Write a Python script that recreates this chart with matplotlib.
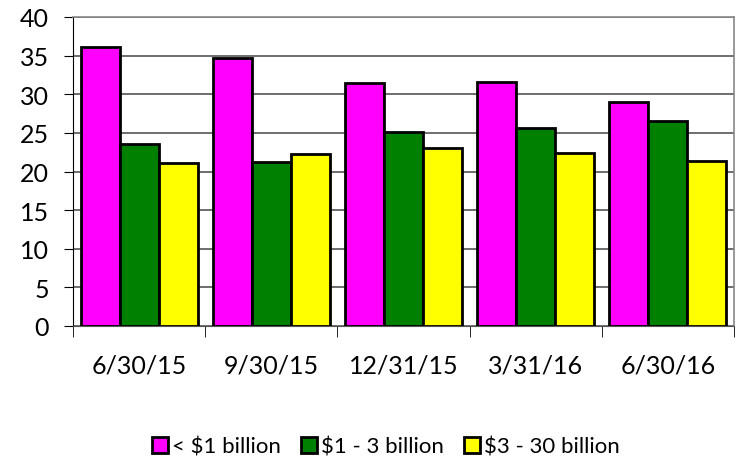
import numpy as np
import matplotlib.pyplot as plt

dates = ["6/30/15", "9/30/15", "12/31/15", "3/31/16", "6/30/16"]
under_1b = [36.1, 34.7, 31.5, 31.6, 29.0]
b1_to_3 = [23.5, 21.2, 25.1, 25.6, 26.6]
b3_to_30 = [21.1, 22.3, 23.0, 22.4, 21.3]

plt.rcParams["font.family"] = ["Lato", "DejaVu Sans"]

fig = plt.figure(figsize=(7.46, 4.60), dpi=100)
ax = fig.add_axes([73 / 746, 1 - 327 / 460, 661 / 746, 309 / 460])

x = np.arange(len(dates))
w = 0.295
series = [(under_1b, "#ff00ff", "< $1 billion"),
          (b1_to_3, "#008000", "$1 - 3 billion"),
          (b3_to_30, "#ffff00", "$3 - 30 billion")]
for i, (vals, col, lab) in enumerate(series):
    ax.bar(x + (i - 1) * w, vals, width=w, color=col, edgecolor="black",
           linewidth=2, label=lab, zorder=3)

ax.set_xlim(-0.5, len(dates) - 0.5)
ax.set_ylim(0, 40)
ax.set_yticks(range(0, 41, 5))
ax.yaxis.grid(True, color="#555555", linewidth=1.2, zorder=0)
ax.tick_params(axis="y", labelsize=18, length=6.5, direction="out", pad=11)

ax.set_xticks(x)
ax.set_xticklabels(dates)
ax.set_xticks(np.arange(-0.5, len(dates), 1), minor=True)
ax.tick_params(axis="x", which="major", length=0, labelsize=18, pad=20)
ax.tick_params(axis="x", which="minor", length=8, direction="out")

for s in ["top", "right"]:
    ax.spines[s].set_color("#888888")
    ax.spines[s].set_linewidth(1.2)
ax.spines["left"].set_color("black")
ax.spines["bottom"].set_color("#555555")

fig.legend(loc="center", bbox_to_anchor=(386 / 746, 1 - 448 / 460), ncol=3,
           frameon=False, fontsize=16, handlelength=0.7, handleheight=0.7,
           handletextpad=0.2, columnspacing=0.9, borderpad=0)

fig.savefig("out.png", dpi=100)
